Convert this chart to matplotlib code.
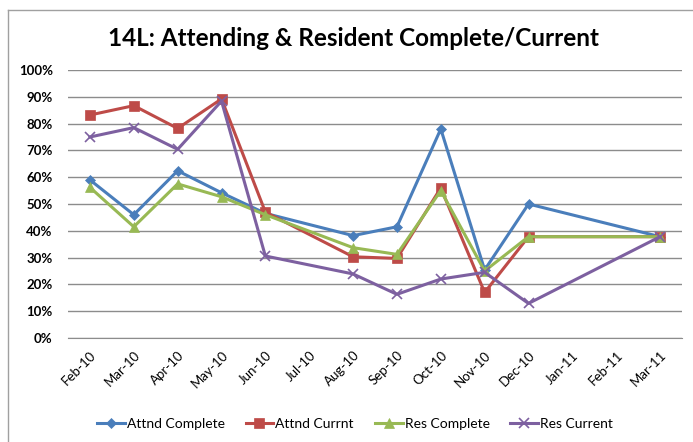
import matplotlib.pyplot as plt
from matplotlib.lines import Line2D

plt.rcParams['font.family'] = ['Lato', 'DejaVu Sans']

# all months on the axis (Excel date axis, monthly)
axis_months = ['Feb-10', 'Mar-10', 'Apr-10', 'May-10', 'Jun-10', 'Jul-10', 'Aug-10',
               'Sep-10', 'Oct-10', 'Nov-10', 'Dec-10', 'Jan-11', 'Feb-11', 'Mar-11']
# months that have data
data_months = ['Feb-10', 'Mar-10', 'Apr-10', 'May-10', 'Jun-10', 'Aug-10',
               'Sep-10', 'Oct-10', 'Nov-10', 'Dec-10', 'Mar-11']

attnd_complete = [0.59, 0.46, 0.624, 0.542, 0.465, 0.382, 0.415, 0.78, 0.254, 0.50, 0.378]
attnd_currnt = [0.832, 0.867, 0.782, 0.892, 0.47, 0.303, 0.297, 0.56, 0.17, 0.378, 0.378]
res_complete = [0.562, 0.415, 0.575, 0.527, 0.46, 0.337, 0.312, 0.55, 0.25, 0.378, 0.378]
res_current = [0.75, 0.785, 0.704, 0.884, 0.306, 0.239, 0.163, 0.22, 0.245, 0.129, 0.378]

series = [
    ('Attnd Complete', attnd_complete, '#4A7EBB', 'D', 5.5),
    ('Attnd Currnt', attnd_currnt, '#BE4B48', 's', 7),
    ('Res Complete', res_complete, '#98B954', '^', 7),
    ('Res Current', res_current, '#7D60A0', 'x', 6.5),
]

x = [axis_months.index(m) for m in data_months]

fig = plt.figure(figsize=(6.93, 4.42), dpi=100)
ax = fig.add_axes([68 / 693, 1 - 338 / 442, (682 - 68) / 693, (338 - 70) / 442])

for name, vals, color, marker, ms in series:
    ax.plot(x, vals, color=color, lw=2.2, marker=marker, markersize=ms,
            markeredgecolor=color, markeredgewidth=1.2 if marker == 'x' else 0.5,
            label=name)

ax.set_xlim(-0.5, len(axis_months) - 0.5)
ax.set_ylim(0, 1.0)
ax.set_yticks([i / 10 for i in range(11)])
ax.set_yticklabels(['%d%%' % (i * 10) for i in range(11)], fontsize=9.5, fontweight='bold')
ax.set_xticks(range(len(axis_months)))
ax.set_xticklabels(axis_months, rotation=45, ha='right', rotation_mode='anchor', fontsize=9.5)
ax.tick_params(length=0)
ax.tick_params(axis='y', pad=11)
ax.tick_params(axis='x', pad=8)
ax.grid(axis='y', color='#8C8C8C', lw=1)
ax.set_axisbelow(True)
for s in ['top', 'right', 'left']:
    ax.spines[s].set_visible(False)
ax.spines['bottom'].set_color('#8C8C8C')

fig.text(353 / 693, 1 - 38 / 442, '14L: Attending & Resident Complete/Current',
         ha='center', va='center', fontsize=17.5, fontweight='bold')

fig.legend(loc='center', bbox_to_anchor=(355 / 693, 1 - 424 / 442), ncol=4, frameon=False,
           fontsize=10, handlelength=2.0, columnspacing=1.5, handletextpad=0.15)

# chart border (left and top edges visible)
bx, by = 8 / 693, 1 - 9.5 / 442
fig.add_artist(Line2D([bx, bx], [0, by], transform=fig.transFigure, color='#A0A0A0', lw=1))
fig.add_artist(Line2D([bx, 1], [by, by], transform=fig.transFigure, color='#A0A0A0', lw=1))

fig.savefig('out.png', dpi=100)
